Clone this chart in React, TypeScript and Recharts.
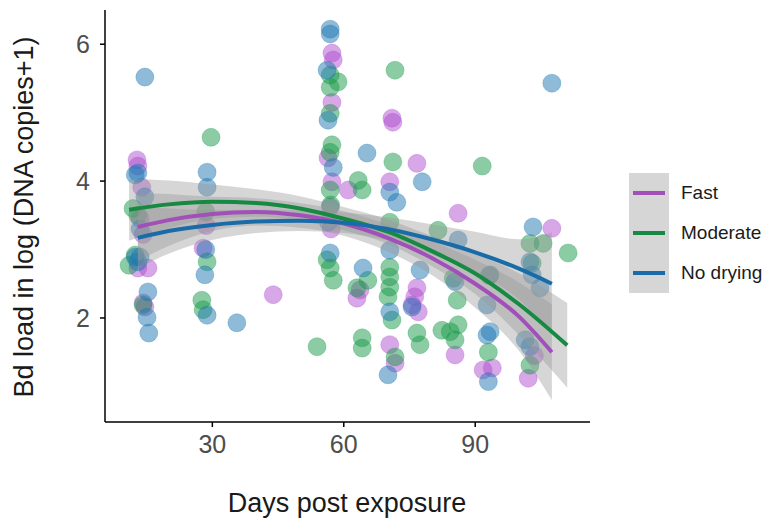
import { ComposedChart, Scatter, Line, Area, XAxis, YAxis, Legend } from 'recharts';

const groups = ['Fast', 'Moderate', 'No drying'];
const dayTicks = [30, 60, 90];
const loadTicks = [2, 4, 6];

// [day, load]
const fastPoints: [number, number][] = [
  [12.8, 4.31], [13.0, 4.22], [13.9, 3.91], [13.5, 3.45], [14.2, 3.22], [13.0, 2.73], [15.3, 2.73], [14.2, 2.22], [14.6, 2.16],
  [27.9, 3.02], [28.6, 3.35], [43.9, 2.34],
  [57.3, 5.87], [57.6, 5.77], [57.3, 5.15], [56.4, 4.34], [57.3, 3.99], [56.9, 3.62], [57.1, 3.3], [61.0, 3.87], [63.0, 2.29], [63.7, 2.41],
  [71.2, 4.86], [71.0, 4.92], [70.5, 3.99], [70.5, 1.61], [71.7, 1.34], [76.7, 4.26], [76.7, 2.44], [76.2, 2.31], [77.0, 2.09], [75.6, 2.19],
  [86.1, 3.53], [85.4, 1.46], [91.8, 1.24], [93.9, 1.27], [107.5, 3.31], [102.1, 1.12], [103.5, 1.45],
];

const moderatePoints: [number, number][] = [
  [11.0, 2.77], [11.9, 3.6], [12.4, 2.92], [14.2, 2.19], [13.0, 3.5], [29.7, 4.64], [28.8, 2.82], [27.6, 2.26], [27.9, 2.12], [28.5, 3.55],
  [53.9, 1.58], [56.9, 5.55], [58.7, 5.45], [56.9, 5.37], [56.9, 4.99], [57.3, 4.53], [56.9, 4.42], [56.9, 3.87], [57.0, 3.65], [56.2, 2.85], [56.9, 2.73], [57.6, 2.55],
  [63.3, 4.01], [64.2, 3.87], [65.5, 2.55], [63.0, 2.44], [64.2, 1.71], [64.2, 1.56],
  [71.7, 5.62], [71.2, 4.28], [70.5, 3.4], [70.5, 2.74], [70.5, 2.6], [70.5, 2.45], [70.1, 2.31], [71.0, 1.97], [71.7, 1.43],
  [76.7, 1.78], [77.4, 1.61], [81.5, 3.28], [82.4, 1.82], [84.3, 1.8], [85.4, 1.68], [85.9, 2.26], [86.1, 1.9], [85.0, 2.58],
  [91.6, 4.22], [93.0, 1.5], [93.2, 2.62], [102.5, 3.09], [105.5, 3.09], [111.2, 2.95], [102.5, 1.31], [103.0, 2.8],
];

const noDryingPoints: [number, number][] = [
  [14.6, 5.52], [13.0, 4.12], [12.4, 4.09], [14.6, 3.77], [12.4, 2.89], [13.5, 2.89], [13.0, 2.82], [15.3, 2.38], [15.1, 2.01], [15.5, 1.78], [13.5, 3.3],
  [28.8, 4.13], [28.8, 3.91], [28.3, 2.63], [28.8, 2.04], [28.5, 3.0], [35.6, 1.93],
  [56.9, 6.22], [56.9, 6.15], [56.2, 5.62], [56.4, 4.89], [57.6, 4.2], [56.9, 2.95], [56.5, 3.4], [65.3, 4.41], [64.4, 2.73],
  [70.5, 3.84], [72.1, 3.69], [77.9, 3.99], [77.4, 2.7], [75.6, 2.16], [70.5, 2.09], [70.1, 1.17], [70.5, 2.99],
  [85.4, 2.53], [86.1, 3.14], [92.7, 2.19], [92.7, 1.75], [93.4, 1.8], [93.0, 1.07], [93.4, 2.63],
  [103.2, 3.33], [107.5, 5.43], [102.5, 2.82], [103.0, 2.63], [104.8, 2.44], [101.4, 1.68], [102.5, 1.58],
];

// smoothed fits and their confidence bands, read at these days
const fastDays = [13, 20, 30, 40, 50, 60, 70, 80, 90, 100, 107.5];
const fastFit = [3.33, 3.43, 3.52, 3.55, 3.5, 3.38, 3.17, 2.88, 2.5, 2.02, 1.5];
const fastLo = [2.83, 3.05, 3.27, 3.35, 3.32, 3.2, 2.97, 2.63, 2.15, 1.52, 0.8];
const fastHi = [3.83, 3.81, 3.77, 3.75, 3.68, 3.56, 3.37, 3.13, 2.85, 2.52, 2.2];

const moderateDays = [11, 20, 30, 40, 50, 60, 70, 80, 90, 100, 111];
const moderateFit = [3.58, 3.66, 3.7, 3.68, 3.6, 3.45, 3.26, 2.98, 2.65, 2.2, 1.6];
const moderateLo = [3.13, 3.31, 3.45, 3.48, 3.42, 3.28, 3.08, 2.76, 2.35, 1.75, 0.98];
const moderateHi = [4.03, 4.01, 3.95, 3.88, 3.78, 3.62, 3.44, 3.2, 2.95, 2.65, 2.22];

const noDryingDays = [13, 20, 30, 40, 50, 60, 70, 80, 90, 100, 107.5];
const noDryingFit = [3.17, 3.27, 3.36, 3.41, 3.42, 3.39, 3.3, 3.15, 2.96, 2.72, 2.5];
const noDryingLo = [2.72, 2.94, 3.14, 3.24, 3.27, 3.24, 3.13, 2.93, 2.66, 2.27, 1.75];
const noDryingHi = [3.62, 3.6, 3.58, 3.58, 3.57, 3.54, 3.47, 3.37, 3.26, 3.15, 3.25];

const pointColors = ['#b050cf', '#1a9a4a', '#1f78b4'];
const lineColors = ['#a050b8', '#168a42', '#1a6ca8'];
const font = '"Liberation Sans", Arial, sans-serif';

const toPoints = (pts: [number, number][]) => pts.map(([d, v]) => ({ d, v }));
const toFit = (days: number[], fit: number[], lo: number[], hi: number[]) =>
  days.map((d, i) => ({ d, v: fit[i], band: [lo[i], hi[i]] }));

const series = [
  { name: groups[0], points: toPoints(fastPoints), fit: toFit(fastDays, fastFit, fastLo, fastHi) },
  { name: groups[1], points: toPoints(moderatePoints), fit: toFit(moderateDays, moderateFit, moderateLo, moderateHi) },
  { name: groups[2], points: toPoints(noDryingPoints), fit: toFit(noDryingDays, noDryingFit, noDryingLo, noDryingHi) },
];

const dot = (color: string) => (props: any) => (
  <circle cx={props.cx} cy={props.cy} r={9} fill={color} fillOpacity={0.5} stroke={color} strokeOpacity={0.3} strokeWidth={1} />
);

const LegendBox = () => (
  <div style={{ fontFamily: font, fontSize: 19, color: '#1a1a1a' }}>
    {groups.map((g, i) => (
      <div key={g} style={{ display: 'flex', alignItems: 'center', height: 40 }}>
        <div style={{ width: 40, height: 40, background: '#d6d6d6', position: 'relative' }}>
          <div style={{ position: 'absolute', left: 4, right: 4, top: 18, height: 4, background: lineColors[i] }} />
        </div>
        <span style={{ marginLeft: 12, whiteSpace: 'nowrap' }}>{g}</span>
      </div>
    ))}
  </div>
);

const App = () => {
  return (
    <div style={{ margin: -8 }}>
      <ComposedChart width={772} height={526} margin={{ top: 10, right: 182, bottom: 24, left: 35 }}>
        <XAxis
          type="number"
          dataKey="d"
          domain={[5.5, 116.2]}
          allowDataOverflow
          ticks={dayTicks}
          height={80}
          stroke="#000"
          strokeWidth={1.5}
          tickSize={5}
          tickMargin={8}
          tick={{ fill: '#4d4d4d', fontSize: 25, fontFamily: font }}
          label={{
            content: () => (
              <text x={347} y={512} textAnchor="middle" fill="#1a1a1a" fontSize={27} fontFamily={font}>
                Days post exposure
              </text>
            ),
          }}
        />
        <YAxis
          type="number"
          domain={[0.48, 6.5]}
          allowDataOverflow
          ticks={loadTicks}
          width={70}
          stroke="#000"
          strokeWidth={1.5}
          tickSize={5}
          tickMargin={10}
          tick={{ fill: '#4d4d4d', fontSize: 25, fontFamily: font }}
          label={{
            content: () => (
              <text
                x={0}
                y={0}
                transform="translate(33,217) rotate(-90)"
                textAnchor="middle"
                fill="#1a1a1a"
                fontSize={27}
                fontFamily={font}
              >
                Bd load in log (DNA copies+1)
              </text>
            ),
          }}
        />
        {series.map((s, i) => (
          <Scatter
            key={'p' + s.name}
            name={s.name}
            data={s.points}
            dataKey="v"
            shape={dot(pointColors[i])}
            isAnimationActive={false}
            legendType="none"
            zIndex={50}
          />
        ))}
        {series.map((s) => (
          <Area
            key={'b' + s.name}
            data={s.fit}
            dataKey="band"
            type="monotone"
            fill="#999999"
            fillOpacity={0.4}
            stroke="none"
            isAnimationActive={false}
            legendType="none"
          />
        ))}
        {series.map((s, i) => (
          <Line
            key={'l' + s.name}
            name={s.name}
            data={s.fit}
            dataKey="v"
            type="monotone"
            stroke={lineColors[i]}
            strokeWidth={4}
            dot={false}
            isAnimationActive={false}
          />
        ))}
        <Legend
          layout="vertical"
          align="center"
          verticalAlign="middle"
          wrapperStyle={{ position: 'absolute', left: 629, top: 173, width: 135, height: 120 }}
          content={() => <LegendBox />}
        />
      </ComposedChart>
    </div>
  );
};

export default App;
